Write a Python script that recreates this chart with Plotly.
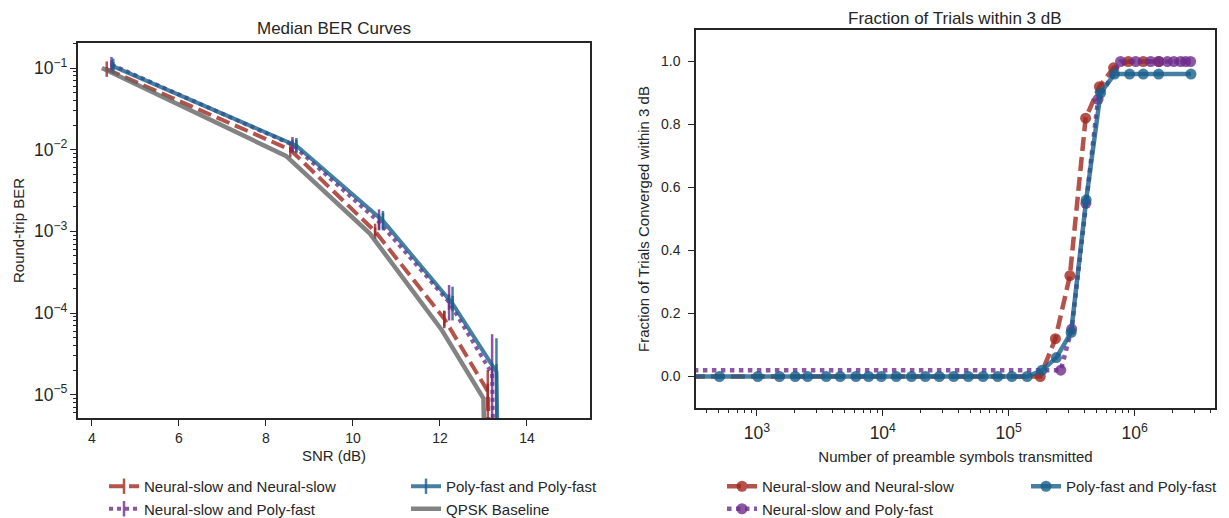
import numpy as np
import plotly.graph_objects as go

# ---------------- Left panel: Median BER curves ----------------
# SNR (dB), median BER, lower / upper error bound (0 = zero BER)
nn_snr = [4.34, 8.56, 10.51, 12.10, 13.10, 14.0]
nn_ber = [0.097, 0.0100, 1.0e-3, 8.5e-5, 1.1e-5, 0.0]
nn_lo = [0.092, 0.0093, 8.9e-4, 6.5e-5, 0.0, 0.0]
nn_hi = [0.103, 0.0108, 1.12e-3, 1.07e-4, 2.0e-5, 0.0]

np_snr = [4.45, 8.61, 10.60, 12.21, 13.20, 14.0]
np_ber = [0.110, 0.0115, 1.30e-3, 1.36e-4, 1.8e-5, 0.0]
np_lo = [0.095, 0.0093, 1.03e-3, 8.1e-5, 0.0, 0.0]
np_hi = [0.124, 0.0132, 1.86e-3, 2.2e-4, 5.5e-5, 0.0]

pp_snr = [4.49, 8.70, 10.69, 12.29, 13.30, 14.0]
pp_ber = [0.105, 0.0112, 1.35e-3, 1.30e-4, 1.9e-5, 0.0]
pp_lo = [0.095, 0.0093, 1.03e-3, 8.1e-5, 0.0, 0.0]
pp_hi = [0.119, 0.0132, 1.78e-3, 2.1e-4, 4.9e-5, 0.0]

qpsk_snr = [4.23, 8.46, 10.39, 12.05, 13.0, 14.0]
qpsk_ber = [0.100, 8.4e-3, 9.4e-4, 6.1e-5, 9.0e-6, 0.0]

# ---------------- Right panel: fraction of trials within 3 dB ----------------
ns_sym = [1e2, 1.78e5, 2.35e5, 3.06e5, 4.08e5, 5.25e5, 6.8e5, 8.9e5, 1.17e6, 1.55e6]
ns_frac = [0.0, 0.0, 0.12, 0.32, 0.82, 0.92, 0.98, 1.0, 1.0, 1.0]

nps_sym = [1e2, 2.59e5, 3.16e5, 4.1e5, 5.12e5, 7.73e5, 1.02e6, 1.34e6, 1.56e6,
           1.82e6, 2.05e6, 2.32e6, 2.54e6, 2.78e6]
nps_frac = [0.02, 0.02, 0.15, 0.55, 0.88, 1.0, 1.0, 1.0, 1.0, 1.0, 1.0, 1.0, 1.0, 1.0]

pps_sym = [1e2, 505, 1018, 1514, 2018, 2530, 3556, 4594, 6120, 7720, 9730, 12800,
           16900, 21800, 28100, 36600, 47800, 62600, 81800, 106000, 140000,
           184000, 239000, 313000, 412000, 536000, 692000, 912000, 1170000,
           1550000, 2800000]
pps_frac = [0.0, 0.0, 0.0, 0.0, 0.0, 0.0, 0.0, 0.0, 0.0, 0.0, 0.0, 0.0, 0.0, 0.0,
            0.0, 0.0, 0.0, 0.0, 0.0, 0.0, 0.0,
            0.02, 0.06, 0.14, 0.56, 0.90, 0.96, 0.96, 0.96, 0.96, 0.96]

RED = "rgba(160,40,30,0.8)"
PURPLE = "rgba(110,45,140,0.8)"
BLUE = "rgba(25,95,140,0.8)"
GRAY = "rgba(100,100,100,0.8)"
FONT = "Liberation Sans, Arial, sans-serif"
INK = "#262626"
FLOOR = 1e-30  # zero BER drawn at a tiny value (clipped like matplotlib)

# ---------------- page geometry (pixels) ----------------
W, H = 1229, 518
ML, MR, MT, MB = 78, 14, 30, 100
PW, PH = W - ML - MR, H - MT - MB


def px(x):
    return (x - ML) / PW


def py(y):
    return (H - MB - y) / PH


fig = go.Figure()


def ber_trace(snr, ber, lo, hi, name, color, dash, leg):
    y = np.maximum(np.array(ber, float), FLOOR)
    lo_f = np.minimum(np.maximum(np.array(lo, float), FLOOR), y)
    hi_f = np.maximum(np.array(hi, float), y)
    return go.Scatter(
        x=snr, y=y, name=name, mode="lines+markers",
        line=dict(color=color, width=4, dash=dash),
        marker=dict(symbol="line-ns", size=11, color=color,
                    line=dict(color=color, width=2.5)),
        error_y=dict(type="data", symmetric=False, array=hi_f - y,
                     arrayminus=y - lo_f, color=color, thickness=2.5, width=0),
        xaxis="x", yaxis="y", legend=leg,
    )


fig.add_trace(ber_trace(nn_snr, nn_ber, nn_lo, nn_hi,
                        "Neural-slow and Neural-slow", RED, "14px,6px", "legend"))
fig.add_trace(ber_trace(np_snr, np_ber, np_lo, np_hi,
                        "Neural-slow and Poly-fast", PURPLE, "dot", "legend"))
fig.add_trace(ber_trace(pp_snr, pp_ber, pp_lo, pp_hi,
                        "Poly-fast and Poly-fast", BLUE, "solid", "legend3"))
fig.add_trace(go.Scatter(
    x=qpsk_snr, y=np.maximum(np.array(qpsk_ber, float), FLOOR),
    name="QPSK Baseline", mode="lines", line=dict(color=GRAY, width=4.5),
    xaxis="x", yaxis="y", legend="legend3"))


def frac_trace(x, y, name, color, dash, leg):
    return go.Scatter(
        x=x, y=y, name=name, mode="lines+markers",
        line=dict(color=color, width=4.5, dash=dash),
        marker=dict(symbol="circle", size=11, color=color),
        xaxis="x2", yaxis="y2", legend=leg,
    )


fig.add_trace(frac_trace(ns_sym, ns_frac, "Neural-slow and Neural-slow", RED, "14px,6px", "legend2"))
fig.add_trace(frac_trace(nps_sym, nps_frac, "Neural-slow and Poly-fast", PURPLE, "dot", "legend2"))
fig.add_trace(frac_trace(pps_sym, pps_frac, "Poly-fast and Poly-fast", BLUE, "solid", "legend4"))

axis_common = dict(showline=True, linecolor=INK, linewidth=1.5, mirror=True,
                   ticks="outside", ticklen=6, tickwidth=1.2, tickcolor=INK,
                   showgrid=False, zeroline=False, automargin=False,
                   tickfont=dict(family=FONT, size=14, color=INK),
                   title_font=dict(family=FONT, size=15, color=INK))


def legend_at(x_text, y_top):
    return dict(orientation="v", x=px(x_text - 42), xanchor="left", y=py(y_top),
                yanchor="top", traceorder="normal",
                font=dict(family=FONT, size=15, color=INK), bgcolor="rgba(0,0,0,0)")


fig.update_layout(
    width=W, height=H, autosize=False,
    margin=dict(l=ML, r=MR, t=MT, b=MB, autoexpand=False),
    paper_bgcolor="white", plot_bgcolor="white",
    font=dict(family=FONT, color=INK),
    xaxis=dict(domain=[px(78), px(590)], range=[3.68, 15.45], dtick=2, tick0=0,
               title=dict(text="SNR (dB)", standoff=6), anchor="y", **axis_common),
    yaxis=dict(domain=[py(418), py(43)], type="log", range=[-5.286, -0.693],
               dtick=1, exponentformat="power",
               minor=dict(ticks="outside", ticklen=3.5, tickcolor=INK, dtick="D1"),
               title=dict(text="Round-trip BER", standoff=6), anchor="x", **axis_common),
    xaxis2=dict(domain=[px(696), px(1215)], type="log", range=[2.517, 6.638],
                dtick=1, exponentformat="power", ticklabelstandoff=3,
                minor=dict(ticks="outside", ticklen=3.5, tickcolor=INK, dtick="D1"),
                title=dict(text="Number of preamble symbols transmitted", standoff=9),
                anchor="y2", **axis_common),
    yaxis2=dict(domain=[py(408), py(30)], range=[-0.1, 1.1], dtick=0.2,
                tick0=0, tickformat=".1f", ticklabelstandoff=5,
                title=dict(text="Fraction of Trials Converged within 3 dB", standoff=8),
                anchor="x2", **axis_common),
    legend=legend_at(146, 470),
    legend3=legend_at(448, 470),
    legend2=legend_at(764, 470),
    legend4=legend_at(1068, 470),
    annotations=[
        dict(text="Median BER Curves", x=px(334), y=py(28), xref="paper", yref="paper",
             showarrow=False, xanchor="center", yanchor="middle",
             font=dict(family=FONT, size=17, color=INK)),
        dict(text="Fraction of Trials within 3 dB", x=px(955.5), y=py(18),
             xref="paper", yref="paper", showarrow=False, xanchor="center",
             yanchor="middle", font=dict(family=FONT, size=17, color=INK)),
    ],
)

fig.write_html("out.html")
